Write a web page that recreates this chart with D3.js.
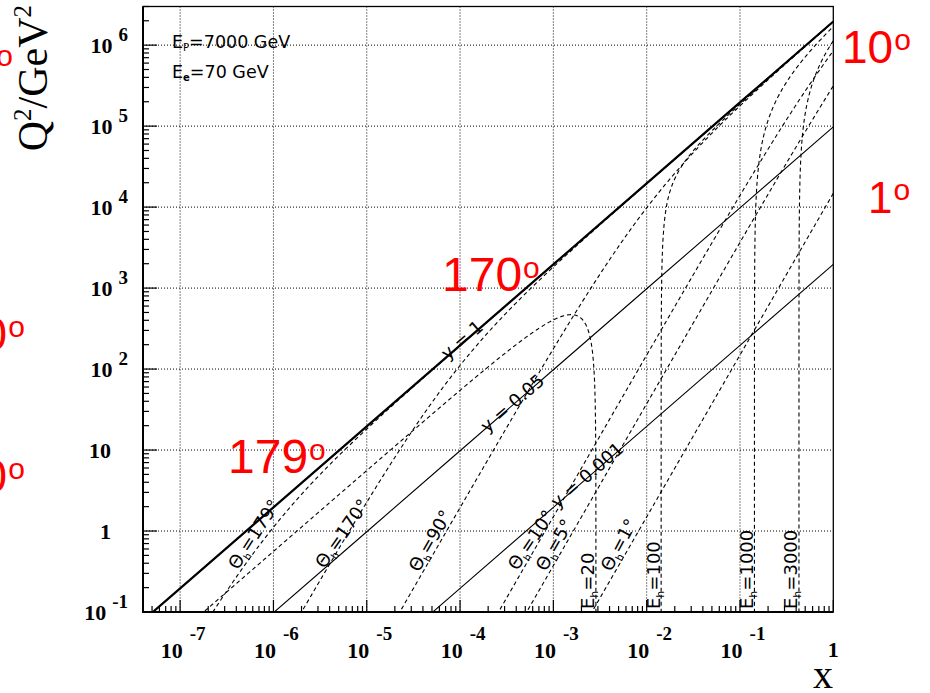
<!DOCTYPE html>
<html>
<head>
<meta charset="utf-8">
<script src="https://cdn.jsdelivr.net/npm/d3@7"></script>
<style>
  body { margin: 0; background: #fff; }
  .tick-label { font-family: "Liberation Serif", "Times New Roman", serif; font-weight: bold; font-size: 22px; }
  .line-label { font-family: "DejaVu Sans", sans-serif; font-size: 18px; }
  .red-label { font-family: "Liberation Sans", Arial, sans-serif; fill: #ff0000; }
</style>
</head>
<body>
<svg class="plane"></svg>
<script>
// beam energies (GeV)
const beamP = 7000;
const beamE = 70;

// iso lines drawn on the kinematic plane
const yValues = [1, 0.05, 0.001];
const thetaValues = [179, 170, 90, 10, 5, 1];
const energyValues = [20, 100, 1000, 3000];

// axis ticks
const xMajor = [1e-7, 1e-6, 1e-5, 1e-4, 1e-3, 1e-2, 1e-1, 1];
const yMajor = [1e-1, 1, 10, 1e2, 1e3, 1e4, 1e5, 1e6];

// red overlay labels
const redTexts = ["179", "170", "10", "1", "90", "90", "90"];

const size = { w: 930, h: 693 };
const frame = { l: 143, r: 833.3, t: 6.5, b: 612 };

const svg = d3.select("svg.plane").attr("width", size.w).attr("height", size.h);

const xScale = d3.scaleLog().domain([4e-8, 1]).range([frame.l, frame.r]);
const yScale = d3.scaleLog().domain([0.1, 3e6]).range([frame.b, frame.t]);

const s = 4 * beamE * beamP;

svg.append("defs").append("clipPath").attr("id", "plot-clip")
  .append("rect")
  .attr("x", frame.l).attr("y", frame.t)
  .attr("width", frame.r - frame.l).attr("height", frame.b - frame.t);

// grid
const gridG = svg.append("g").attr("class", "grid")
  .attr("stroke", "#000").attr("stroke-width", 1).attr("stroke-dasharray", "1,2");
xMajor.filter((v) => v < 1).forEach((v) => {
  gridG.append("line")
    .attr("x1", xScale(v)).attr("x2", xScale(v))
    .attr("y1", frame.t).attr("y2", frame.b);
});
yMajor.filter((v) => v > 0.1).forEach((v) => {
  gridG.append("line")
    .attr("x1", frame.l).attr("x2", frame.r)
    .attr("y1", yScale(v)).attr("y2", yScale(v));
});

// curves: quark parton model kinematics, Q2 = s x y
function lineOfY(yv) {
  return xMajor.concat([4e-8]).sort((a, b) => a - b).map((xv) => [xv, s * xv * yv]);
}

function lineOfTheta(deg) {
  const th = (deg * Math.PI) / 180;
  const a = beamE / beamP / Math.pow(Math.tan(th / 2), 2);
  let pts = [];
  for (let t = -30; t <= 30; t += 0.02) {
    const e = Math.exp(t);
    const xv = a * e;
    const yv = e / (1 + e);
    pts.push([xv, s * xv * yv]);
  }
  return pts.filter((p) => p[0] < 10 && p[1] > 1e-3 && p[1] < 1e8);
}

function lineOfEnergy(E) {
  const yMax = Math.min(1, E / beamE);
  let fr = [];
  for (let k = -10; k <= -0.301; k += 0.005) fr.push(Math.pow(10, k));
  for (let k = -0.301; k >= -12; k -= 0.005) fr.push(1 - Math.pow(10, k));
  let pts = fr.map((f) => {
    const yv = yMax * f;
    const c = (2 * beamE * yv) / E; // 1 - cos(theta)
    const sin2 = c * (2 - c);
    const q2 = (E * E * sin2) / (1 - yv);
    return [q2 / (s * yv), q2];
  });
  return pts.filter((p) => p[0] > 1e-9 && p[0] < 10 && p[1] > 1e-3 && p[1] < 1e8);
}

const line = d3.line().x((d) => xScale(d[0])).y((d) => yScale(d[1]));

const curvesG = svg.append("g").attr("clip-path", "url(#plot-clip)").attr("fill", "none").attr("stroke", "#000");

curvesG.selectAll("path.yline")
  .data(yValues)
  .join("path")
  .attr("class", "yline")
  .attr("stroke-width", (d) => (d === 1 ? 2.2 : 1.1))
  .attr("d", (d) => line(lineOfY(d)));

curvesG.selectAll("path.thline")
  .data(thetaValues)
  .join("path")
  .attr("class", "thline")
  .attr("stroke-width", 1.1)
  .attr("stroke-dasharray", "4,3")
  .attr("d", (d) => line(lineOfTheta(d)));

curvesG.selectAll("path.eline")
  .data(energyValues)
  .join("path")
  .attr("class", "eline")
  .attr("stroke-width", 1.1)
  .attr("stroke-dasharray", "4,3")
  .attr("d", (d) => line(lineOfEnergy(d)));

// frame and axes
svg.append("rect")
  .attr("x", frame.l).attr("y", frame.t)
  .attr("width", frame.r - frame.l).attr("height", frame.b - frame.t)
  .attr("fill", "none").attr("stroke", "#000").attr("stroke-width", 1.3);
svg.append("line").attr("x1", frame.l).attr("x2", frame.l).attr("y1", frame.t).attr("y2", frame.b + 1)
  .attr("stroke", "#000").attr("stroke-width", 2);
svg.append("line").attr("x1", frame.l - 1).attr("x2", frame.r).attr("y1", frame.b).attr("y2", frame.b)
  .attr("stroke", "#000").attr("stroke-width", 2);

const tickG = svg.append("g").attr("stroke", "#000").attr("stroke-width", 1.2);
xMajor.forEach((v, i) => {
  tickG.append("line").attr("x1", xScale(v)).attr("x2", xScale(v))
    .attr("y1", frame.b).attr("y2", frame.b - 12);
  for (let m = 2; m < 10; m++) {
    [v / 10, v].forEach((base) => {
      if (i > 0 && base === v / 10) return;
      const mv = base * m;
      if (mv < xScale.domain()[0] || mv >= 1) return;
      tickG.append("line").attr("x1", xScale(mv)).attr("x2", xScale(mv))
        .attr("y1", frame.b).attr("y2", frame.b - 6);
    });
  }
});
yMajor.forEach((v) => {
  tickG.append("line").attr("x1", frame.l).attr("x2", frame.l + 14)
    .attr("y1", yScale(v)).attr("y2", yScale(v));
  for (let m = 2; m < 10; m++) {
    const mv = v * m;
    if (mv > yScale.domain()[1]) continue;
    tickG.append("line").attr("x1", frame.l).attr("x2", frame.l + 6)
      .attr("y1", yScale(mv)).attr("y2", yScale(mv));
  }
});

function addPowLabel(g, v, xPos, yPos, anchor, supDx, supDy) {
  const p = Math.round(Math.log10(v));
  const t = g.append("text").attr("class", "tick-label")
    .attr("x", xPos).attr("y", yPos).attr("text-anchor", anchor);
  if (p === 0) { t.text("1"); return; }
  t.append("tspan").text("10");
  if (p === 1) return;
  t.append("tspan").attr("dx", supDx).attr("dy", supDy).attr("font-size", 19).text(p < 0 ? "-" + -p : p);
}

const labelG = svg.append("g");
yMajor.forEach((v) => {
  const p = Math.round(Math.log10(v));
  if (p === 0 || p === 1) addPowLabel(labelG, v, 111, yScale(v) + 8, "end");
  else addPowLabel(labelG, v, 128, yScale(v) + 8, "end", 6, -12);
});
xMajor.forEach((v) => {
  const p = Math.round(Math.log10(v));
  if (p === 0) addPowLabel(labelG, v, xScale(v), 657, "middle");
  else addPowLabel(labelG, v, xScale(v) + 3, 658, "middle", 7, -18);
});

// axis titles
const yTitle = svg.append("text")
  .attr("transform", "translate(47,5) rotate(-90)")
  .attr("text-anchor", "end")
  .attr("font-family", "Liberation Serif, Times New Roman, serif")
  .attr("font-size", 42);
yTitle.append("tspan").text("Q");
yTitle.append("tspan").attr("dy", -16).attr("font-size", 25).text("2");
yTitle.append("tspan").attr("dy", 16).text("/GeV");
yTitle.append("tspan").attr("dy", -16).attr("font-size", 25).text("2");

svg.append("text")
  .attr("x", 833).attr("y", 688)
  .attr("text-anchor", "end")
  .attr("font-family", "Liberation Serif, Times New Roman, serif")
  .attr("font-size", 40)
  .text("x");

// beam info
const infoG = svg.append("g").attr("font-family", "DejaVu Sans, sans-serif").attr("font-size", 17.5);
const ep = infoG.append("text").attr("x", 172).attr("y", 48);
ep.append("tspan").text("E");
ep.append("tspan").attr("font-size", 10).attr("dy", 3).text("P");
ep.append("tspan").attr("dy", -3).text("=7000 GeV");
const ee = infoG.append("text").attr("x", 172).attr("y", 78);
ee.append("tspan").text("E");
ee.append("tspan").attr("font-size", 10).attr("dy", 3).attr("font-weight", "bold").text("e");
ee.append("tspan").attr("dy", -3).text("=70 GeV");

// labels along lines (log10 x, log10 Q2, angle)
const yLabelPos = [[-3.98, 2.36], [-3.44, 1.58], [-2.64, 0.69]];
const thetaLabelPos = [
  [-6.21, -0.04, 57], [-5.265, -0.03, 55], [-4.32, -0.12, 60],
  [-3.24, -0.11, 56], [-2.99, -0.17, 60], [-2.3, -0.17, 62],
];
const yAngle = (Math.atan((81 / 93.33)) * 180) / Math.PI;

yValues.forEach((v, i) => {
  const px = xScale(Math.pow(10, yLabelPos[i][0]));
  const py = yScale(Math.pow(10, yLabelPos[i][1]));
  svg.append("text").attr("class", "line-label")
    .attr("font-size", 19.5)
    .attr("transform", `translate(${px},${py}) rotate(${-yAngle})`)
    .attr("text-anchor", "middle").attr("dy", "0.35em")
    .text("y = " + v);
});

thetaValues.forEach((v, i) => {
  const px = xScale(Math.pow(10, thetaLabelPos[i][0]));
  const py = yScale(Math.pow(10, thetaLabelPos[i][1]));
  const t = svg.append("text").attr("class", "line-label")
    .attr("transform", `translate(${px},${py}) rotate(${-thetaLabelPos[i][2]})`)
    .attr("text-anchor", "middle").attr("dy", "0.35em");
  t.append("tspan").text("Θ");
  t.append("tspan").attr("font-size", 10).attr("dy", 4).text("h");
  t.append("tspan").attr("dy", -4).text("=" + v + "°");
});

energyValues.forEach((v) => {
  const px = xScale(v / beamP) - 1.5;
  const t = svg.append("text").attr("class", "line-label")
    .attr("font-size", 21)
    .attr("transform", `translate(${px},${frame.b - 3}) rotate(-90)`)
    .attr("text-anchor", "start");
  t.append("tspan").text("E");
  t.append("tspan").attr("font-size", 11).attr("dy", 4).text("h");
  t.append("tspan").attr("dy", -4).text("=" + v);
});

// red overlay labels
const redPos = [
  [228, 473, 48], [442, 291, 48], [842, 63, 46], [868, 213, 44],
  [-56, 79, 46], [-44, 350, 46], [-44, 492, 46],
];
redTexts.forEach((txt, i) => {
  const t = svg.append("text").attr("class", "red-label")
    .attr("x", redPos[i][0]).attr("y", redPos[i][1])
    .attr("font-size", redPos[i][2]);
  t.append("tspan").text(txt);
  t.append("tspan").attr("font-size", 30).attr("dy", -13).attr("dx", 1).text("o");
});
</script>
</body>
</html>
